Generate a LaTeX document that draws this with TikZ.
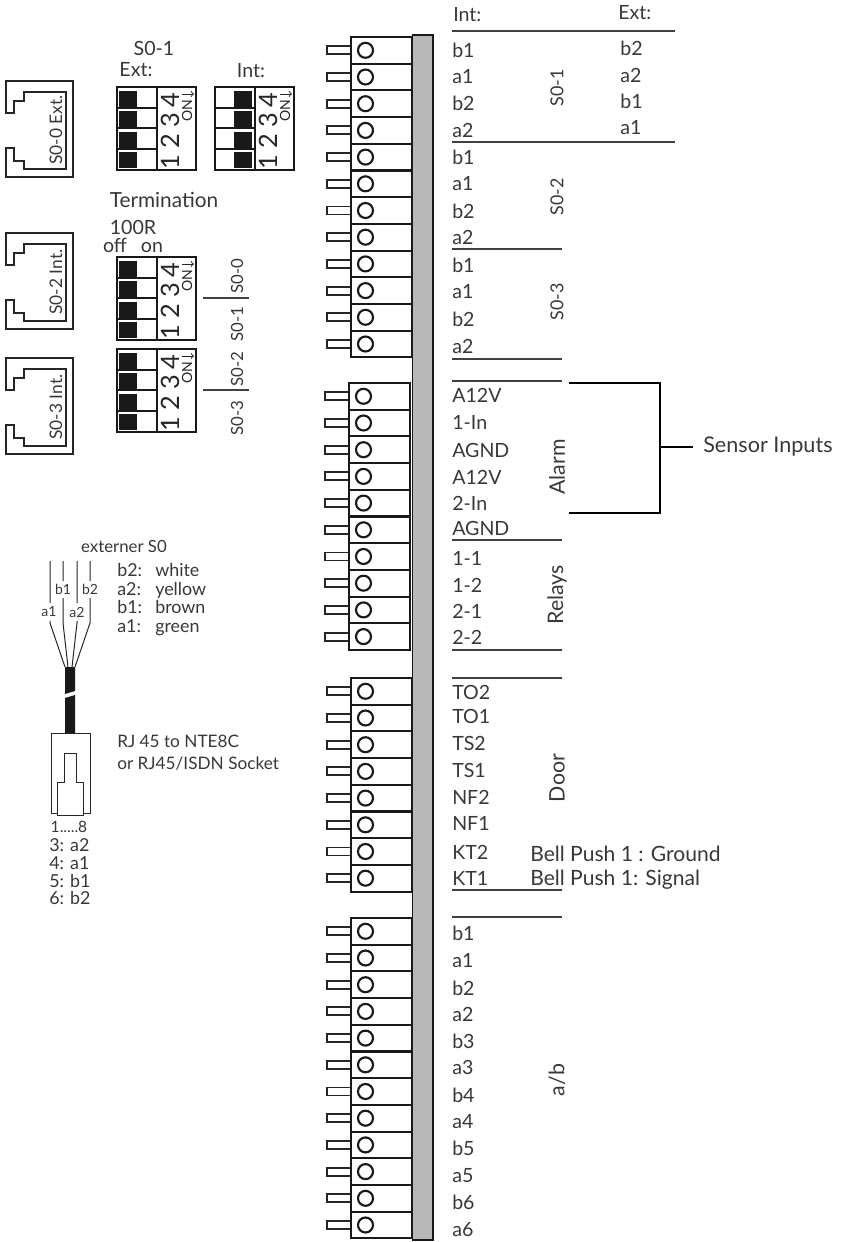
\documentclass[tikz,border=0pt]{standalone}
\usepackage{fontspec}
\setmainfont{Lato}
\usetikzlibrary{arrows,positioning,calc}

% Termination switch block: name, left, top, offset of the black squares
\newcommand{\dipswitch}[4]{
  \begin{scope}[shift={(#2,#3)}]
    \draw[dipframe] (0,0) rectangle (79,83);
    \draw[dipframe] (40,0) -- (40,83);
    \foreach \r/\d/\ty in {0/4/13,1/3/33,2/2/54,3/1/75} {
      \fill[black!90] (#4,3.5+20.5*\r) rectangle +(18,16);
      \node[digit] (#1d\d) at (53,\ty) {\d};
    }
    \foreach \ty in {20.5,41,61.5} \draw[dipframe] (0,\ty) -- (40,\ty);
    \node[ontext] (#1on) at (70,24) {ON};
    \coordinate (#1a) at (65,7);
    \coordinate (#1b) at (77,7);
    \draw[->, >=to, line width=0.7pt, black!85] (#1a) -- (#1b);
  \end{scope}
}

% RJ45 socket outline, shifted down by the second argument
\newcommand{\socket}[3]{
  \draw[socketline, shift={(0,#2)}] (6,113) -- (6,81) -- (73,81) -- (73,177) -- (6,177) -- (6,148)
    -- (14,148) -- (14,161) -- (24,161) -- (24,169) -- (66,169) -- (66,92) -- (24,92)
    -- (24,101) -- (14,101) -- (14,113) -- cycle;
  \node[lbl, rotate=90, font=\fontsize{13}{15}\selectfont] (#1) at (56,130+#2) {#3};
}

\begin{document}
\begin{tikzpicture}[
    x=0.75pt, y=-0.75pt,
    lbl/.style={inner sep=0pt, text=black!78, font=\fontsize{13.4}{15}\selectfont},
    pinlbl/.style={lbl, anchor=west, text height=9.5pt, text depth=0pt},
    biglbl/.style={lbl, font=\fontsize{14.7}{16}\selectfont},
    grouplbl/.style={lbl, rotate=90, font=\fontsize{16}{18}\selectfont},
    small/.style={lbl, font=\fontsize{10.5}{12}\selectfont},
    digit/.style={inner sep=0pt, rotate=90, text=black!85, font=\fontsize{19}{19}\selectfont},
    ontext/.style={inner sep=0pt, rotate=90, text=black!85, font=\fontsize{10.5}{11}\selectfont},
    dipframe/.style={draw=black!90, line width=1.5pt},
    socketline/.style={draw=black!85, line width=1pt},
    terminal/.style={draw=black!90, line width=1.6pt},
    pin/.style={draw=black!85, line width=1.4pt},
    rule/.style={draw=black!75, line width=0.8pt},
    wire/.style={draw=black!85, line width=0.75pt},
]
\useasboundingbox (0,0) rectangle (859,1242);

% Terminal blocks
\foreach \bx/\by/\bn in {351/37/12, 349/383/10, 351/678/8, 351/918/12} {
  \foreach \i in {1,...,\bn} {
    \draw[pin] ({\bx-24},{\by+26.7*(\i-1)+9.3}) rectangle +(24,8);
    \draw[terminal] (\bx,{\by+26.7*(\i-1)}) rectangle +(61,26.7);
    \draw[terminal] ({\bx+14.5},{\by+26.7*(\i-1)+13.3}) circle (7.5);
  }
}

% Rail
\draw[fill=black!28, draw=black!90, line width=1pt] (412.5,35) rectangle (433,1240);

% Int column
\foreach \n/\t/\y in {1/b1/51, 2/a1/77, 3/b2/104, 4/a2/131, 5/b1/158, 6/a1/184, 7/b2/212, 8/a2/238,
    9/b1/266, 10/a1/292, 11/b2/320, 12/a2/347, 13/A12V/396, 14/1-In/423, 15/AGND/451, 16/A12V/478,
    17/2-In/504, 18/AGND/529, 19/1-1/559, 20/1-2/586, 21/2-1/612, 22/2-2/638, 23/TO2/693, 24/TO1/717,
    25/TS2/744, 26/TS1/771, 27/NF2/798, 28/NF1/824, 29/KT2/853, 30/KT1/879, 31/b1/934, 32/a1/961,
    33/b2/989, 34/a2/1015, 35/b3/1042, 36/a3/1068, 37/b4/1096, 38/a4/1122, 39/b5/1149, 40/a5/1176,
    41/b6/1203, 42/a6/1230} {
  \node[pinlbl, biglbl] (int\n) at (452,\y) {\t};
}
\node[pinlbl, biglbl] (inthead) at (453,15) {Int:};

% Ext column
\node[pinlbl, biglbl] (exthead) at (618,13) {Ext:};
\foreach \n/\t/\y in {1/b2/49, 2/a2/76, 3/b1/102, 4/a1/128} {
  \node[pinlbl, biglbl] (ext\n) at (620,\y) {\t};
}

% Rules
\foreach \y/\xe in {31/675, 142/675, 249/562, 359/562, 381/562, 540/562, 650/562, 678/562, 890/562, 917/562} {
  \draw[rule] (452,\y) -- (\xe,\y);
}

% Group names
\foreach \n/\t/\y in {a/S0-1/88, b/S0-2/197, c/S0-3/302} {
  \node[lbl, rotate=90] (group\n) at (557,\y) {\t};
}
\foreach \n/\t/\y in {d/Alarm/467, e/Relays/595, f/Door/778, g/a\slash b/1080} {
  \node[grouplbl] (group\n) at (557,\y) {\t};
}

% Alarm bracket
\node[pinlbl, font=\fontsize{16.2}{18}\selectfont] (sensor) at (703,446) {Sensor Inputs};
\coordinate (brtop) at (569,383);
\coordinate (brbot) at (569,513);
\coordinate (brmid) at (660,447);
\draw[line width=1.6pt] (brtop) -| (brmid) |- (brbot);
\draw[line width=1.6pt] (brmid) -- (693,447);

% Bell push
\node[pinlbl, font=\fontsize{15.8}{18}\selectfont] (bella) at (530,855) {Bell Push 1 : Ground};
\node[pinlbl, font=\fontsize{15.8}{18}\selectfont] (bellb) at (530,879) {Bell Push 1: Signal};

% Sockets
\socket{sockext}{0}{S0-0 Ext.}
\socket{sockb}{152}{S0-2 Int.}
\socket{sockc}{277}{S0-3 Int.}

% Termination switches
\node[biglbl] (sohead) at (154,48) {S0-1};
\node[biglbl] (dipexthead) at (136,70) {Ext:};
\node[biglbl] (dipinthead) at (251,71) {Int:};
\dipswitch{dipext}{117}{87}{2}
\dipswitch{dipint}{215}{87}{19}
\node[lbl, font=\fontsize{15.6}{18}\selectfont] (term) at (164,200) {Termination};
\node[biglbl] (hundred) at (133,227) {100R};
\node[biglbl, text height=9.5pt, text depth=0pt] (off) at (115,246) {off};
\node[biglbl, text height=9.5pt, text depth=0pt] (on) at (152,246) {on};
\dipswitch{dipa}{117}{257}{2}
\dipswitch{dipb}{117}{349}{2}

% Bus labels
\foreach \n/\t/\y in {a/S0-0/276, b/S0-1/324, c/S0-2/369, d/S0-3/418} {
  \node[lbl, rotate=90, font=\fontsize{12.6}{14}\selectfont] (bus\n) at (237,\y) {\t};
}
\draw[rule] (203,298) -- (249,298);
\draw[rule] (203,390) -- (249,390);

% External cable
\node[small, font=\fontsize{12.6}{14}\selectfont] (ext) at (124,546) {externer S0};
\node[small] (wa1) at (49,612) {a1};
\node[small] (wb1) at (63,589) {b1};
\node[small] (wa2) at (77,612) {a2};
\node[small] (wb2) at (90,589) {b2};
\draw[wire] (50,561) -- (50,603) (50,621) -- (50,623) -- (65,667);
\draw[wire] (63,561) -- (63,581) (63,598) -- (63,623) -- (68,667);
\draw[wire] (77,561) -- (77,603) (77,621) -- (77,623) -- (72,667);
\draw[wire] (90,561) -- (90,581) (90,598) -- (90,623) -- (75,667);
\fill[black!90] (65,667) -- (75,667) -- (75,691) -- (65,694) -- cycle;
\fill[black!90] (65,698) -- (75,695) -- (75,733) -- (65,733) -- cycle;

% Plug
\draw[wire] (51,733) rectangle (90,813);
\draw[wire, fill=white] (57,815) -- (57,782) -- (64,782) -- (64,753) -- (76,753) -- (76,782) -- (83,782) -- (83,815) -- cycle;

% Colour list
\foreach \n/\t/\c/\y in {a/b2:/white/570, b/a2:/yellow/589, c/b1:/brown/607, d/a1:/green/626} {
  \node[pinlbl] (cola\n) at (117,\y) {\t};
  \node[pinlbl] (colb\n) at (155,\y) {\c};
}
\node[pinlbl, font=\fontsize{12.9}{15}\selectfont] (rja) at (117,741) {RJ 45 to NTE8C};
\node[pinlbl, font=\fontsize{12.9}{15}\selectfont] (rjb) at (117,763) {or RJ45/ISDN Socket};
\node[small, font=\fontsize{11.7}{13}\selectfont] (pins) at (69,827) {1.....8};
\foreach \n/\t/\y in {a/3: a2/845, b/4: a1/863, c/5: b1/881, d/6: b2/898} {
  \node[pinlbl] (plug\n) at (49,\y) {\t};
}

\end{tikzpicture}
\end{document}
